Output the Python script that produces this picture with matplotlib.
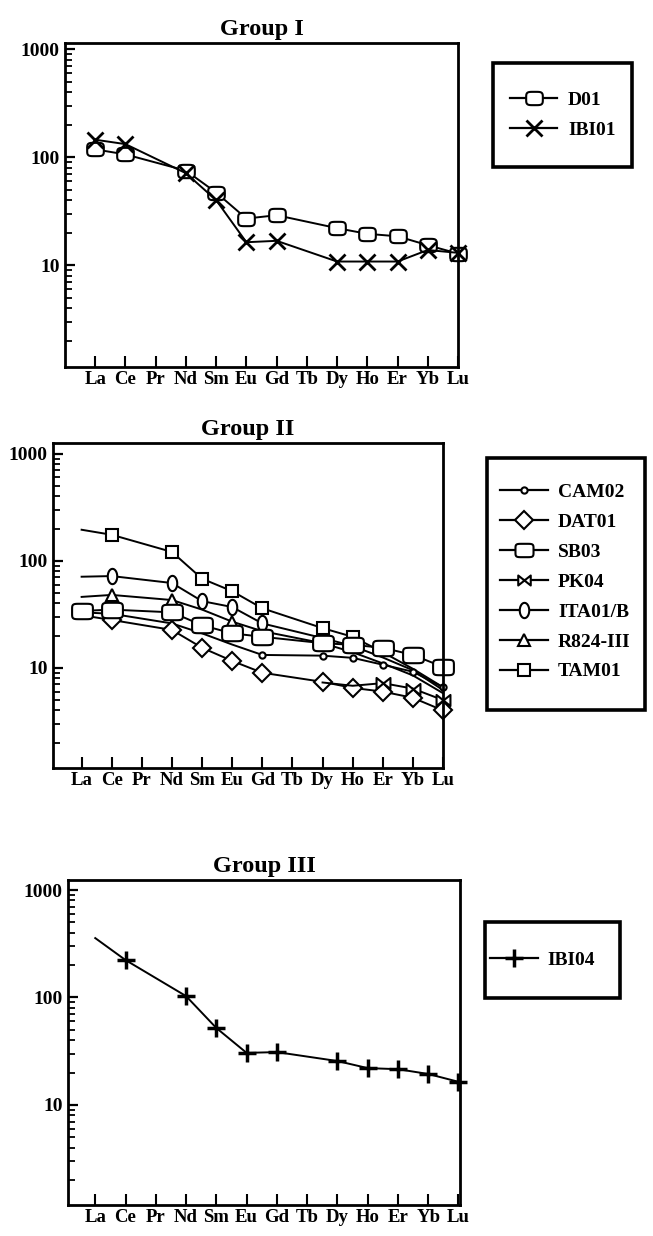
import numpy as np
import matplotlib
matplotlib.use('Agg')
import matplotlib.pyplot as plt
from matplotlib.path import Path
from matplotlib.patches import Rectangle
from matplotlib.lines import Line2D
from matplotlib.ticker import LogLocator, NullFormatter

plt.rcParams['font.family'] = 'serif'
plt.rcParams['font.serif'] = ['Liberation Serif', 'DejaVu Serif']

nan = np.nan
elements = ['La', 'Ce', 'Pr', 'Nd', 'Sm', 'Eu', 'Gd', 'Tb', 'Dy', 'Ho', 'Er', 'Yb', 'Lu']

# Group I
d01 = [118, 106, nan, 75, 47, 27, 29, nan, 22, 19.5, 18.5, 15.3, 12.8]
ibi01 = [145, 132, nan, 71, 40, 16.3, 16.8, nan, 10.8, 10.8, 10.8, 13.8, 13]

# Group II
cam02 = [33, 32, nan, 26, 21, 16.5, 13.2, nan, 13, 12.4, 10.7, 9.2, 6.6]
dat01 = [31, 28, nan, 22.6, 15.4, 11.6, 9, nan, 7.4, 6.5, 6.0, 5.25, 4.0]
sb03 = [34, 35, nan, 33, 25, 21, 19.5, nan, 17, 16.4, 15.4, 13.2, 10.2]
pk04 = [nan, nan, nan, nan, nan, nan, nan, nan, 7.3, 6.8, 7.2, 6.4, 5.0]
ita01b = [71, 72, nan, 62, 42, 37, 26, nan, 19, 16, 12.5, 9.5, 6.2]
r824 = [46, 48, nan, 43, 35, 27, 22, nan, 17, 14, 11, 8.5, 5.8]
tam01 = [195, 175, nan, 121, 68, 52, 36, nan, 23.5, 19.5, 14, 9.8, 6.6]

# Group III
ibi04 = [357, 223, nan, 103, 52, 30.5, 31, nan, 25.6, 22, 21.5, 19.4, 16.4]

# marker shapes
t = np.linspace(0, 2 * np.pi, 73)
c, s = np.cos(t), np.sin(t)
round_rect = Path(np.column_stack([1.25 * np.sign(c) * np.abs(c) ** 0.45,
                                   np.sign(s) * np.abs(s) ** 0.45]), closed=True)
big_rect = Path(np.column_stack([1.35 * np.sign(c) * np.abs(c) ** 0.35,
                                 np.sign(s) * np.abs(s) ** 0.35]), closed=True)
tall_oval = Path(np.column_stack([0.62 * c, s]), closed=True)
bowtie = Path([(-1, 0.8), (1, -0.8), (1, 0.8), (-1, -0.8), (-1, 0.8)], closed=True)

W, H = 653, 1236
fig = plt.figure(figsize=(W / 100, H / 100), dpi=100)


def px_axes(l, r, top, bot):
    return fig.add_axes([l / W, 1 - bot / H, (r - l) / W, (bot - top) / H])


def style(ax, title, xlim, ylim):
    ax.set_yscale('log')
    ax.set_xlim(*xlim)
    ax.set_ylim(*ylim)
    ax.set_xticks(range(len(elements)), elements, fontsize=13.5, fontweight='bold')
    ax.set_yticks([10, 100, 1000], ['10', '100', '1000'], fontsize=14, fontweight='bold')
    ax.yaxis.set_minor_locator(LogLocator(base=10, subs=range(2, 10)))
    ax.yaxis.set_minor_formatter(NullFormatter())
    ax.tick_params(axis='both', which='both', direction='in', top=False, right=False)
    ax.tick_params(axis='x', length=8, width=1.5, pad=3)
    ax.tick_params(axis='y', which='major', length=7, width=1.6, pad=4)
    ax.tick_params(axis='y', which='minor', length=5, width=1.3)
    for sp in ax.spines.values():
        sp.set_linewidth(2)
    ax.set_title(title, fontsize=17.5, fontweight='bold', pad=6)


def draw(ax, vals, marker, ms, marked=None, mew=1.5, lw=1.4):
    x = np.arange(len(elements))
    y = np.array(vals, float)
    ok = ~np.isnan(y)
    xs, ys = x[ok], y[ok]
    if marked is None:
        idx = list(range(len(xs)))
    else:
        idx = [i for i, xv in enumerate(xs) if elements[xv] in marked]
    ax.plot(xs, ys, color='k', lw=lw, marker=marker, ms=ms, mfc='white',
            mec='k', mew=mew, markevery=idx, clip_on=False)


def legend_box(ax, handles, labels, left, right, top, bot, hx, cy, hlen, tpad):
    fig.patches.append(Rectangle((left / W, 1 - bot / H), (right - left) / W, (bot - top) / H,
                                 transform=fig.transFigure, fill=False, lw=2.6, ec='k'))
    fs_px = 14 * 100 / 72
    ax.legend(handles, labels, loc='center left', bbox_to_anchor=(hx / W, 1 - cy / H),
              bbox_transform=fig.transFigure, frameon=False,
              prop={'size': 14, 'weight': 'bold'},
              handlelength=hlen / fs_px, handletextpad=tpad / fs_px, labelspacing=0.63,
              borderpad=0, borderaxespad=0, numpoints=1)


def handle(marker, ms, mew=1.5):
    return Line2D([], [], color='k', lw=1.6, marker=marker, ms=ms, mfc='white', mec='k', mew=mew)


# ---- Group I
ax1 = px_axes(65, 458, 43, 367)
style(ax1, 'Group I', (-1, 12), (1.14, 1140))
draw(ax1, d01, round_rect, 12)
draw(ax1, ibi01, 'x', 11, mew=2)
legend_box(ax1, [handle(round_rect, 12), handle('x', 11, 2)], ['D01', 'IBI01'],
           493, 632, 63, 167, 510, 115, 47, 11)

# ---- Group II
ax2 = px_axes(53, 443, 443, 768)
style(ax2, 'Group II', (-0.95, 12), (1.16, 1260))
draw(ax2, tam01, 's', 8, marked=['Ce', 'Nd', 'Sm', 'Eu', 'Gd', 'Dy', 'Ho'])
draw(ax2, ita01b, tall_oval, 11, marked=['Ce', 'Nd', 'Sm', 'Eu', 'Gd'])
draw(ax2, r824, '^', 8, marked=['Ce', 'Nd', 'Eu'])
draw(ax2, cam02, 'o', 4.5, marked=['Gd', 'Dy', 'Ho', 'Er', 'Yb', 'Lu'])
draw(ax2, dat01, 'D', 9, marked=elements[1:])
draw(ax2, pk04, bowtie, 10, marked=['Er', 'Yb', 'Lu'])
draw(ax2, sb03, big_rect, 15)
legend_box(ax2,
           [handle('o', 4.5), handle('D', 9), handle(big_rect, 13), handle(bowtie, 9),
            handle(tall_oval, 11), handle('^', 8), handle('s', 8)],
           ['CAM02', 'DAT01', 'SB03', 'PK04', 'ITA01/B', 'R824-III', 'TAM01'],
           487, 645, 458, 710, 500, 582, 48, 10)

# ---- Group III
ax3 = px_axes(68, 460, 880, 1205)
style(ax3, 'Group III', (-0.9, 12.05), (1.17, 1240))
draw(ax3, ibi04, '+', 13, marked=elements[1:], mew=2.5)
legend_box(ax3, [handle('+', 13, 2.5)], ['IBI04'], 485, 620, 922, 998, 490, 960, 48, 9)

fig.savefig('out.png', dpi=100)
